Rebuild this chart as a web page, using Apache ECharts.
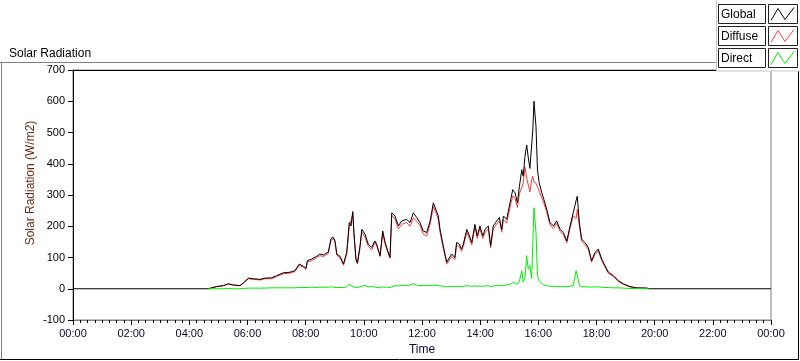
<!DOCTYPE html>
<html>
<head>
<meta charset="utf-8">
<script src="https://cdn.jsdelivr.net/npm/echarts@6/dist/echarts.min.js"></script>
<style>
html,body{margin:0;padding:0;background:#fff;}
#chart{width:800px;height:361px;}
</style>
</head>
<body>
<div id="chart"></div>
<script>
// time of day in hours
var times = [0.00,4.65,4.71,4.94,5.17,5.34,5.51,5.74,5.86,6.03,6.20,6.43,6.60,6.83,7.00,7.23,7.46,7.63,7.78,7.92,8.01,8.06,8.21,8.38,8.49,8.61,8.78,8.87,8.95,9.01,9.07,9.18,9.30,9.41,9.50,9.56,9.62,9.66,9.73,9.78,9.87,9.93,10.04,10.15,10.27,10.38,10.44,10.56,10.65,10.73,10.82,10.90,10.96,11.07,11.19,11.30,11.47,11.59,11.70,11.82,11.93,12.04,12.16,12.28,12.39,12.45,12.56,12.62,12.73,12.85,12.90,13.02,13.13,13.19,13.28,13.36,13.42,13.54,13.63,13.71,13.82,13.90,13.99,14.09,14.17,14.28,14.36,14.45,14.57,14.66,14.74,14.80,14.91,14.97,15.05,15.12,15.20,15.28,15.35,15.43,15.48,15.54,15.60,15.65,15.71,15.77,15.81,15.85,15.89,15.92,15.97,16.03,16.12,16.19,16.29,16.40,16.52,16.63,16.75,16.86,16.98,17.09,17.20,17.30,17.34,17.41,17.49,17.60,17.72,17.83,17.95,18.06,18.18,18.29,18.41,18.58,18.75,18.92,19.15,19.38,19.73,19.80,24.00];
var globalVals = [0,0,3,7,10,16,12,10,19,34,32,30,34,35,42,51,53,58,79,72,66,90,95,104,111,108,118,161,165,153,111,104,79,116,212,201,247,180,95,83,138,190,175,143,132,153,143,106,185,148,122,101,243,233,201,217,222,212,243,228,212,185,180,217,275,275,233,190,138,85,79,111,100,148,143,127,143,190,169,148,206,169,201,169,190,201,138,201,217,228,190,233,222,249,286,317,307,275,328,381,360,423,460,423,385,380,508,600,598,518,381,339,307,286,254,212,201,217,190,180,153,201,243,283,296,212,159,148,132,90,116,127,95,74,53,42,26,16,7,3,2,0,0];
var diffuseVals = [null,0,3,7,10,15,12,10,18,32,30,28,32,32,39,48,50,55,75,68,62,86,90,100,106,103,113,155,160,148,107,100,75,110,198,192,240,174,91,79,132,182,164,137,124,148,138,103,179,143,117,97,235,223,192,206,212,200,227,216,202,175,169,207,263,265,223,181,130,79,73,103,93,139,135,120,135,180,160,140,197,161,192,161,181,191,131,192,207,217,181,221,210,235,270,297,289,260,304,323,338,389,354,360,310,348,360,341,344,338,339,313,291,274,244,204,193,209,183,173,147,193,233,225,254,202,152,142,126,85,110,121,90,70,49,39,23,14,6,2,2,0,null];
var directVals = [null,0,0,0,0,1,0,0,1,2,2,2,2,3,3,3,3,3,4,4,4,4,5,4,5,5,5,6,5,5,4,4,4,6,14,9,7,6,4,4,6,8,11,6,8,5,5,3,6,5,5,4,8,10,9,11,10,12,16,12,10,10,11,10,12,10,10,9,8,6,6,8,7,9,8,7,8,10,9,8,9,8,9,8,9,10,7,9,10,11,9,12,12,14,16,20,18,15,24,58,22,34,106,63,74,32,148,259,254,180,42,26,16,12,10,8,8,8,7,7,6,8,10,58,42,10,7,6,6,5,6,6,5,4,4,3,3,2,1,1,0,0,null];
var tickLabels = ['00:00','02:00','04:00','06:00','08:00','10:00','12:00','14:00','16:00','18:00','20:00','22:00','00:00'];
var seriesNames = ['Global','Diffuse','Direct'];
var seriesColors = ['#000000','#ff3b3b','#00ee00'];

function pairs(vals){ return times.map(function(t,i){ return [t, vals[i]]; }); }

var FONT = "'Liberation Sans', Arial, sans-serif";
var chart = echarts.init(document.getElementById('chart'), null, {renderer:'canvas'});

var legendGraphics = [];
legendGraphics.push({type:'rect', shape:{x:716.5,y:-1,width:90,height:72}, style:{fill:'#fff',stroke:'#c8c8c8',lineWidth:1}, z:100});
seriesNames.forEach(function(name,i){
  var y0 = 4.5 + i*22;
  legendGraphics.push({type:'rect', shape:{x:718.5,y:y0,width:47,height:19}, style:{fill:'#fff',stroke:'#222',lineWidth:1}, z:101});
  legendGraphics.push({type:'rect', shape:{x:768.5,y:y0,width:29,height:19}, style:{fill:'#fff',stroke:'#222',lineWidth:1}, z:101});
  legendGraphics.push({type:'text', x:721, y:y0+10, style:{text:name, fill:'#000', font:'12px '+FONT, textVerticalAlign:'middle', textAlign:'left'}, z:102});
  legendGraphics.push({type:'polyline', shape:{points:[[771,y0+16],[778,y0+4],[785,y0+15],[794,y0+3]]}, style:{stroke:seriesColors[i],lineWidth:1,fill:null}, z:102});
});

var option = {
  animation:false,
  backgroundColor:'#fff',
  title:{text:'Solar Radiation', left:4, top:43, textStyle:{fontSize:12, fontWeight:'normal', color:'#000', fontFamily:FONT}},
  grid:{left:73, right:29, top:70, bottom:39, show:true, borderColor:'#808080', borderWidth:1, backgroundColor:'#fff'},
  xAxis:[{
    type:'value', min:0, max:24, interval:2, position:'bottom',
    name:'Time', nameLocation:'middle', nameGap:24,
    nameTextStyle:{fontSize:12, color:'#0a0a30', fontFamily:FONT},
    axisLine:{show:true, onZero:false, lineStyle:{color:'#808080', width:1}},
    axisTick:{show:true, length:5, lineStyle:{color:'#000'}},
    minorTick:{show:true, splitNumber:8, length:3, lineStyle:{color:'#000'}},
    splitLine:{show:false},
    axisLabel:{fontSize:11, color:'#0a0a30', fontFamily:FONT, margin:8,
      formatter:function(v){ return tickLabels[Math.round(v/2)]; }}
  },{
    type:'value', min:0, max:24, position:'top',
    axisLine:{show:true, onZero:false, lineStyle:{color:'#000', width:1}},
    axisTick:{show:false}, axisLabel:{show:false}, splitLine:{show:false}
  }],
  yAxis:{
    type:'value', min:-100, max:700, interval:100,
    axisLine:{show:true, onZero:false, lineStyle:{color:'#000', width:1}},
    axisTick:{show:true, length:5, lineStyle:{color:'#000'}},
    splitLine:{show:false},
    axisLabel:{fontSize:11, color:'#000', fontFamily:FONT, margin:8}
  },
  series:[
    {name:'Diffuse', type:'line', data:pairs(diffuseVals), showSymbol:false, symbol:'none', lineStyle:{color:seriesColors[1], width:1}, itemStyle:{color:seriesColors[1]}, z:2},
    {name:'Global', type:'line', data:pairs(globalVals), showSymbol:false, symbol:'none', lineStyle:{color:seriesColors[0], width:1}, itemStyle:{color:seriesColors[0]}, z:3},
    {name:'Direct', type:'line', data:pairs(directVals), showSymbol:false, symbol:'none', lineStyle:{color:seriesColors[2], width:1}, itemStyle:{color:seriesColors[2]}, z:4}
  ],
  graphic:[
    {type:'line', shape:{x1:0,y1:62.5,x2:716,y2:62.5}, style:{stroke:'#808080',lineWidth:1}},
    {type:'line', shape:{x1:1.5,y1:62,x2:1.5,y2:360}, style:{stroke:'#808080',lineWidth:1}},
    {type:'line', shape:{x1:0,y1:359.5,x2:799,y2:359.5}, style:{stroke:'#000',lineWidth:1}},
    {type:'line', shape:{x1:798.5,y1:70,x2:798.5,y2:360}, style:{stroke:'#000',lineWidth:1}},
    {type:'text', x:31, y:183, rotation:Math.PI/2, style:{text:'Solar Radiation (W/m2)', fill:'#6b2a10', font:'12px '+FONT, textAlign:'center', textVerticalAlign:'middle'}}
  ].concat(legendGraphics)
};
chart.setOption(option);
</script>
</body>
</html>
